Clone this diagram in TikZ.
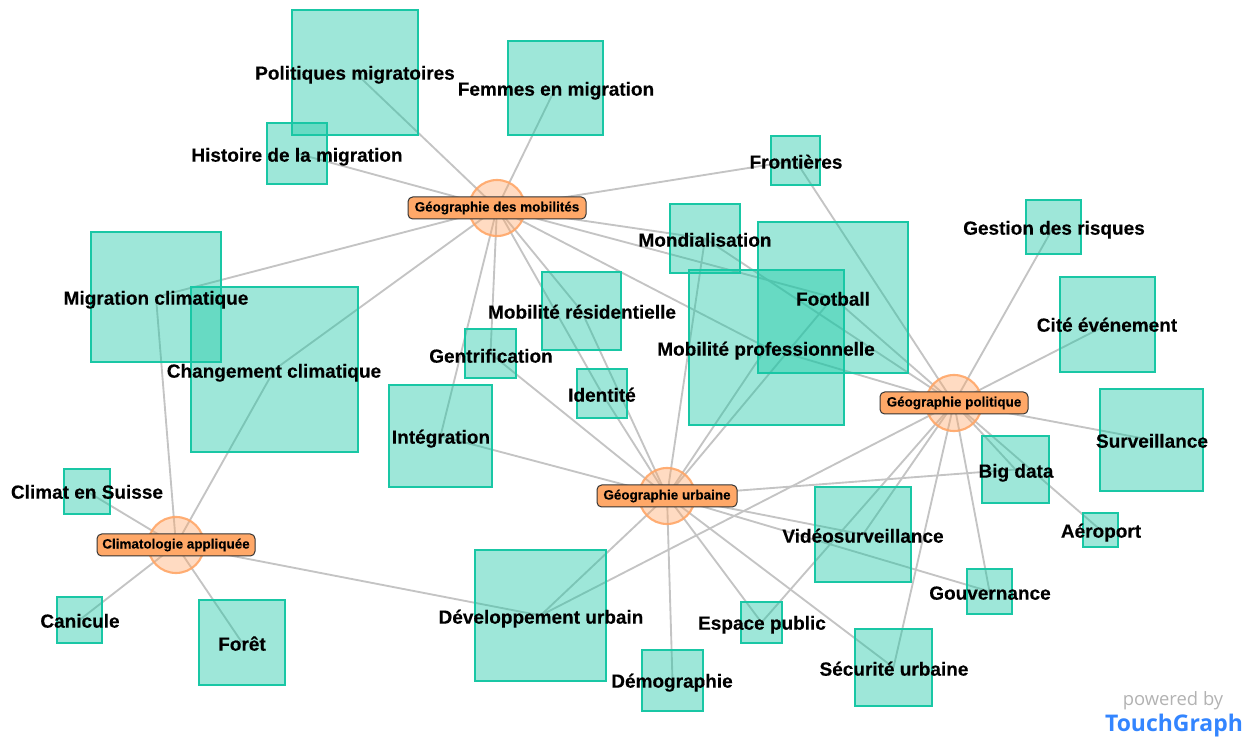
\documentclass[tikz,border=0pt]{standalone}
\usepackage{fontspec}
\setmainfont{Liberation Sans}[BoldFeatures={FakeBold=0.25}]
\newfontfamily\wmfont{Open Sans}
\pgfdeclarelayer{edges}
\pgfsetlayers{edges,main}
\tikzset{
  sq/.style={draw=sqc,fill=sqc,fill opacity=0.42,draw opacity=1,line width=1.6pt,inner sep=0pt,rectangle},
  lab/.style={font=\bfseries\fontsize{14.25}{16}\selectfont,text=black,inner sep=0pt,anchor=center,text height=10pt,text depth=3pt},
  hub/.style={circle,draw=hubc,fill=hubc,fill opacity=0.4,draw opacity=0.9,line width=1.6pt,minimum size=42pt,inner sep=0pt},
  hublab/.style={draw=black!80,fill=hubl,rounded corners=3.5pt,line width=0.75pt,inner sep=0pt,font=\bfseries\fontsize{10.1}{12}\selectfont,text=black},
  edge/.style={draw=edgec,line width=1.4pt},
}
\definecolor{sqc}{HTML}{19C7A5}
\definecolor{hubc}{HTML}{FFA667}
\definecolor{hubl}{HTML}{FFA868}
\definecolor{edgec}{HTML}{C4C4C4}
\newcommand{\sqn}[7]{%
  \node[sq,minimum width={(#4-#2)*0.75pt},minimum height={(#5-#3)*0.75pt}] (#1) at ({(#2+#4)/2},{(#3+#5)/2}) {};
  \coordinate (#1-l) at (#6,#7+2);}
\newcommand{\hubn}[8]{%
  \node[hub] (#1) at (#2,#3) {};
  \node[hublab,minimum width={(#6-#5)*0.75pt},minimum height={16.5pt}] (#1-l) at ({(#5+#6)/2},#4) {#7};}
\begin{document}
\begin{tikzpicture}[x=0.75pt,y=-0.75pt]
\useasboundingbox (0,0) rectangle (1257,737);
\sqn{pol}{292}{10}{418}{135}{355}{73}
\sqn{fem}{508}{41}{603}{135}{556}{89}
\sqn{his}{267}{123}{327}{184}{297}{155}
\sqn{fro}{771}{136}{820}{185}{796}{162}
\sqn{mon}{670}{204}{740}{273}{705}{240}
\sqn{foo}{758}{222}{908}{373}{833}{299}
\sqn{mob}{689}{270}{844}{425}{766}{349}
\sqn{ges}{1026}{200}{1081}{254}{1054}{228}
\sqn{cit}{1060}{277}{1155}{372}{1107}{325}
\sqn{sur}{1100}{389}{1203}{491}{1152}{441}
\sqn{big}{982}{436}{1049}{503}{1016}{471}
\sqn{aer}{1083}{513}{1118}{547}{1101}{531}
\sqn{vid}{815}{487}{911}{582}{863}{536}
\sqn{gou}{967}{569}{1012}{614}{990}{593}
\sqn{esp}{741}{602}{782}{643}{762}{623}
\sqn{sec}{855}{629}{932}{706}{894}{669}
\sqn{dem}{642}{650}{703}{711}{672}{681}
\sqn{dev}{475}{550}{606}{681}{541}{617}
\sqn{ide}{577}{369}{627}{418}{602}{395}
\sqn{res}{542}{272}{621}{350}{582}{312}
\sqn{gen}{465}{329}{516}{378}{491}{356}
\sqn{int}{389}{385}{492}{487}{441}{437}
\sqn{mig}{91}{232}{221}{362}{156}{298}
\sqn{cha}{191}{287}{358}{452}{274}{371}
\sqn{cli}{64}{469}{110}{514}{87}{492}
\sqn{can}{57}{597}{102}{643}{80}{621}
\sqn{for}{199}{600}{285}{685}{242}{644}
\hubn{hm}{497}{208}{208}{408}{586}{Géographie des mobilités}{}
\hubn{hp}{954}{403}{403}{880}{1028}{Géographie politique}{}
\hubn{hu}{667}{496}{496}{597}{737}{Géographie urbaine}{}
\hubn{hc}{176}{545}{545}{97}{255}{Climatologie appliquée}{}
\begin{pgfonlayer}{edges}
\foreach \t in {pol,fem,his,fro,mon,foo,mob,mig,cha,gen,int,res,ide}
  \draw[edge] (hm.center) -- (\t.center);
\foreach \t in {fro,ges,cit,sur,big,aer,gou,sec,vid,esp,dev,foo,mon,mob}
  \draw[edge] (hp.center) -- (\t.center);
\foreach \t in {gen,int,res,ide,mon,foo,mob,big,vid,gou,esp,sec,dem,dev}
  \draw[edge] (hu.center) -- (\t.center);
\foreach \t in {mig,cha,cli,can,for,dev}
  \draw[edge] (hc.center) -- (\t.center);
\end{pgfonlayer}
\foreach \n/\tx in {pol/Politiques migratoires,fem/Femmes en migration,his/Histoire de la migration,fro/Frontières,mon/Mondialisation,foo/Football,mob/Mobilité professionnelle,ges/Gestion des risques,cit/Cité événement,sur/Surveillance,big/Big data,aer/Aéroport,vid/Vidéosurveillance,gou/Gouvernance,esp/Espace public,sec/Sécurité urbaine,dem/Démographie,dev/Développement urbain,ide/Identité,res/Mobilité résidentielle,gen/Gentrification,int/Intégration,mig/Migration climatique,cha/Changement climatique,cli/Climat en Suisse,can/Canicule,for/Forêt}
  \node[lab] at (\n-l) {\tx};
\node[inner sep=0pt,text=black!30,font=\wmfont\fontsize{13.8}{15}\selectfont] (wm1) at (1173,701) {powered by};
\node[inner sep=0pt,text=blue!60!cyan!80,font=\wmfont\bfseries\fontsize{17.2}{19}\selectfont] (wm2) at (1174,726) {TouchGraph};
\end{tikzpicture}
\end{document}
